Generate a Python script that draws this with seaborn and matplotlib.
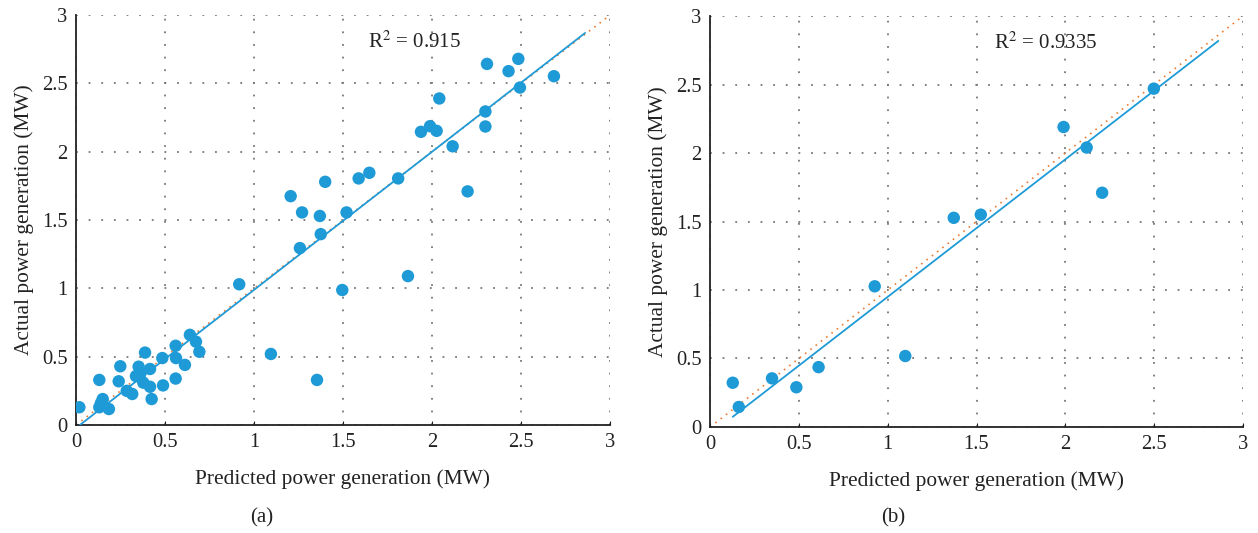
import numpy as np
import pandas as pd
import matplotlib
matplotlib.use("Agg")
import matplotlib.pyplot as plt
import seaborn as sns

# ---- data (panel a) ----
pred_a = [0.019, 0.131, 0.131, 0.15, 0.14, 0.185, 0.249, 0.24, 0.285, 0.316, 0.352, 0.337,
          0.36, 0.378, 0.388, 0.416, 0.416, 0.425, 0.489, 0.485, 0.56, 0.562, 0.56, 0.612,
          0.64, 0.674, 0.693, 0.917, 1.095, 1.206, 1.27, 1.258, 1.354, 1.37, 1.375, 1.40,
          1.496, 1.52, 1.588, 1.648, 1.81, 1.865, 1.938, 1.989, 2.026, 2.041, 2.116, 2.2,
          2.3, 2.3, 2.309, 2.43, 2.485, 2.494, 2.685]
act_a = [0.13, 0.33, 0.13, 0.19, 0.16, 0.117, 0.43, 0.32, 0.25, 0.227, 0.427, 0.358,
         0.37, 0.31, 0.53, 0.41, 0.28, 0.19, 0.29, 0.49, 0.58, 0.49, 0.34, 0.44,
         0.66, 0.61, 0.536, 1.03, 0.52, 1.675, 1.556, 1.295, 0.33, 1.53, 1.397, 1.78,
         0.988, 1.556, 1.805, 1.846, 1.805, 1.09, 2.146, 2.187, 2.153, 2.39, 2.04, 1.71,
         2.295, 2.185, 2.643, 2.59, 2.68, 2.47, 2.553]

# ---- data (panel b) ----
pred_b = [0.128, 0.162, 0.349, 0.486, 0.611, 0.927, 1.099, 1.372, 1.524, 1.99, 2.12, 2.207, 2.498]
act_b = [0.323, 0.146, 0.355, 0.29, 0.437, 1.027, 0.518, 1.527, 1.55, 2.19, 2.04, 1.71, 2.47]

# fitted trend lines (slope, intercept, x-range)
fit_a = dict(slope=1.011, intercept=-0.022, x=[0.022, 2.86])
fit_b = dict(slope=1.004, intercept=-0.054, x=[0.128, 2.861])
ideal_x = [0.0, 3.0]
r2_labels = ["R$^{2}$ = 0.915", "R$^{2}$ = 0.9335"]
captions = ["(a)", "(b)"]
ticks = [0, 0.5, 1, 1.5, 2, 2.5, 3]
tick_labels = ["0", "0.5", "1", "1.5", "2", "2.5", "3"]

sns.set_style("ticks")
plt.rcParams["font.family"] = ["Liberation Serif", "DejaVu Serif"]
plt.rcParams["mathtext.fontset"] = "stix"

BLUE = "#1E9AD6"
ORANGE = "#ED7D31"

fig = plt.figure(figsize=(12.58, 5.33), dpi=100)
axes = [fig.add_axes([0.0604, 0.2026, 0.4245, 0.769]),
        fig.add_axes([0.5644, 0.1989, 0.4237, 0.771])]

panels = [(pred_a, act_a, fit_a), (pred_b, act_b, fit_b)]
for i, (ax, (px, ay, fit)) in enumerate(zip(axes, panels)):
    df = pd.DataFrame({"pred": px, "act": ay})
    sns.lineplot(x=ideal_x, y=ideal_x, ax=ax, color=ORANGE, linestyle=(0, (1, 3)),
                 linewidth=1.2, zorder=2)
    fx = np.array(fit["x"])
    sns.lineplot(x=fx, y=fit["slope"] * fx + fit["intercept"], ax=ax, color=BLUE,
                 linewidth=1.3, zorder=3)
    sns.scatterplot(data=df, x="pred", y="act", ax=ax, color=BLUE, s=80,
                    edgecolor="none", zorder=4)
    ax.set_xlim(0, 3)
    ax.set_ylim(0, 3)
    ax.set_xticks(ticks)
    ax.set_xticklabels(tick_labels)
    ax.set_yticks(ticks)
    ax.set_yticklabels(tick_labels)
    ax.grid(True, color="#777777", linestyle=(0, (1, 6)), linewidth=1.3)
    ax.set_axisbelow(True)
    for s in ["top", "right"]:
        ax.spines[s].set_visible(False)
    for s in ["left", "bottom"]:
        ax.spines[s].set_color("#222222")
        ax.spines[s].set_linewidth(1.3)
    ax.tick_params(axis="both", direction="in", length=3, labelsize=14.8,
                   colors="#222222", pad=6)
    ax.tick_params(axis="y", length=0)
    ax.set_xlabel("Predicted power generation (MW)", fontsize=15.4, color="#222222", labelpad=12)
    ax.set_ylabel("Actual power generation (MW)", fontsize=15.4, color="#222222", labelpad=6)
    ax.text(1.64 if i == 0 else 1.6, 2.8, r2_labels[i], fontsize=15, color="#222222",
            va="center", ha="left")

fig.text(262 / 1258, 1 - 518 / 533, captions[0], fontsize=15, ha="center", va="center", color="#222222")
fig.text(893 / 1258, 1 - 518 / 533, captions[1], fontsize=15, ha="center", va="center", color="#222222")

fig.savefig("out.png", dpi=100)
